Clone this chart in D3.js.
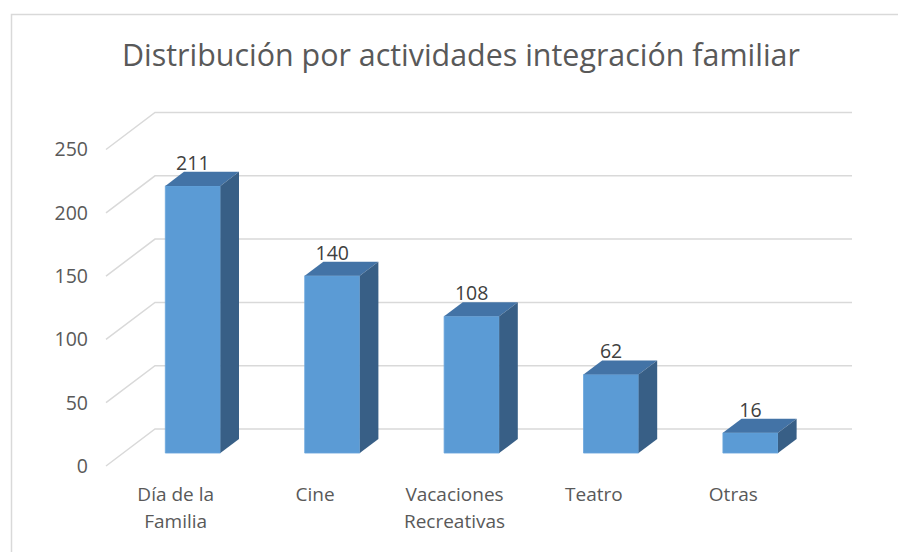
<!DOCTYPE html>
<html>
<head>
<meta charset="utf-8">
<script src="https://cdn.jsdelivr.net/npm/d3@7"></script>
<style>
  html, body { margin: 0; padding: 0; background: #fff; }
  svg { display: block; }
  text { font-family: "Open Sans", "Noto Sans", sans-serif; }
</style>
</head>
<body>
<svg id="chart" width="898" height="552"></svg>
<script>
const title = "Distribución por actividades integración familiar";
const categories = ["Día de la Familia", "Cine", "Vacaciones Recreativas", "Teatro", "Otras"];
const categoryLines = [["Día de la", "Familia"], ["Cine"], ["Vacaciones", "Recreativas"], ["Teatro"], ["Otras"]];
const values = [211, 140, 108, 62, 16];
const yTicks = [0, 50, 100, 150, 200, 250];

const svg = d3.select("#chart");

// frame
svg.append("path")
  .attr("d", "M11.5,552 L11.5,14.5 L898,14.5")
  .attr("fill", "none").attr("stroke", "#d9d9d9").attr("stroke-width", 1.5);

// scales on the back wall
const x = d3.scaleBand().domain(categories).range([155, 852]);
const y = d3.scaleLinear().domain([0, 250]).range([429, 112.5]);

// depth vector (back wall -> front plane)
const DX = -49, DY = 37;
const fFront = 0.65, fBack = 0.27;
const barW = x.bandwidth() * 0.395;

const grid = svg.append("g");
yTicks.forEach(t => {
  const yy = y(t);
  grid.append("path")
    .attr("d", `M${x.range()[1]},${yy} L${x.range()[0]},${yy} L${x.range()[0] + DX},${yy + DY}`)
    .attr("fill", "none").attr("stroke", "#d9d9d9").attr("stroke-width", 1.5);
  grid.append("text")
    .attr("x", 88).attr("y", yy + DY)
    .attr("dy", "0.35em")
    .attr("text-anchor", "end")
    .attr("font-size", 19.5)
    .attr("fill", "#595959")
    .text(t);
});

// bars
const bars = svg.append("g");
categories.forEach((c, i) => {
  const v = values[i];
  const cx = x(c) + x.bandwidth() / 2;
  const fx0 = cx + DX * fFront - barW / 2, fx1 = fx0 + barW;
  const bx0 = cx + DX * fBack - barW / 2, bx1 = bx0 + barW;
  const fyB = y(0) + DY * fFront, fyT = y(v) + DY * fFront;
  const byB = y(0) + DY * fBack, byT = y(v) + DY * fBack;
  // front
  bars.append("path")
    .attr("d", `M${fx0},${fyB} L${fx0},${fyT} L${fx1},${fyT} L${fx1},${fyB} Z`)
    .attr("fill", "#5b9bd5").attr("stroke", "#6aa6dc").attr("stroke-width", 0.8);
  // top
  bars.append("path")
    .attr("d", `M${fx0},${fyT} L${bx0},${byT} L${bx1},${byT} L${fx1},${fyT} Z`)
    .attr("fill", "#4373a6");
  // side
  bars.append("path")
    .attr("d", `M${fx1},${fyT} L${bx1},${byT} L${bx1},${byB} L${fx1},${fyB} Z`)
    .attr("fill", "#385f86");
  // value label
  bars.append("text")
    .attr("x", (fx0 + fx1) / 2).attr("y", byT - 2)
    .attr("text-anchor", "middle")
    .attr("font-size", 19.5)
    .attr("fill", "#404040")
    .text(v);
  // category label
  const t = bars.append("text")
    .attr("text-anchor", "middle")
    .attr("font-size", 19)
    .attr("fill", "#595959");
  categoryLines[i].forEach((ln, k) => {
    t.append("tspan").attr("x", cx + DX).attr("y", 501 + k * 27).text(ln);
  });
});

// title, fit to measured width
const tt = svg.append("text")
  .attr("x", 461).attr("y", 66)
  .attr("text-anchor", "middle")
  .attr("font-size", 28)
  .attr("fill", "#595959")
  .text(title);
const w = tt.node().getComputedTextLength();
tt.attr("font-size", 28 * 678 / w);
</script>
</body>
</html>
